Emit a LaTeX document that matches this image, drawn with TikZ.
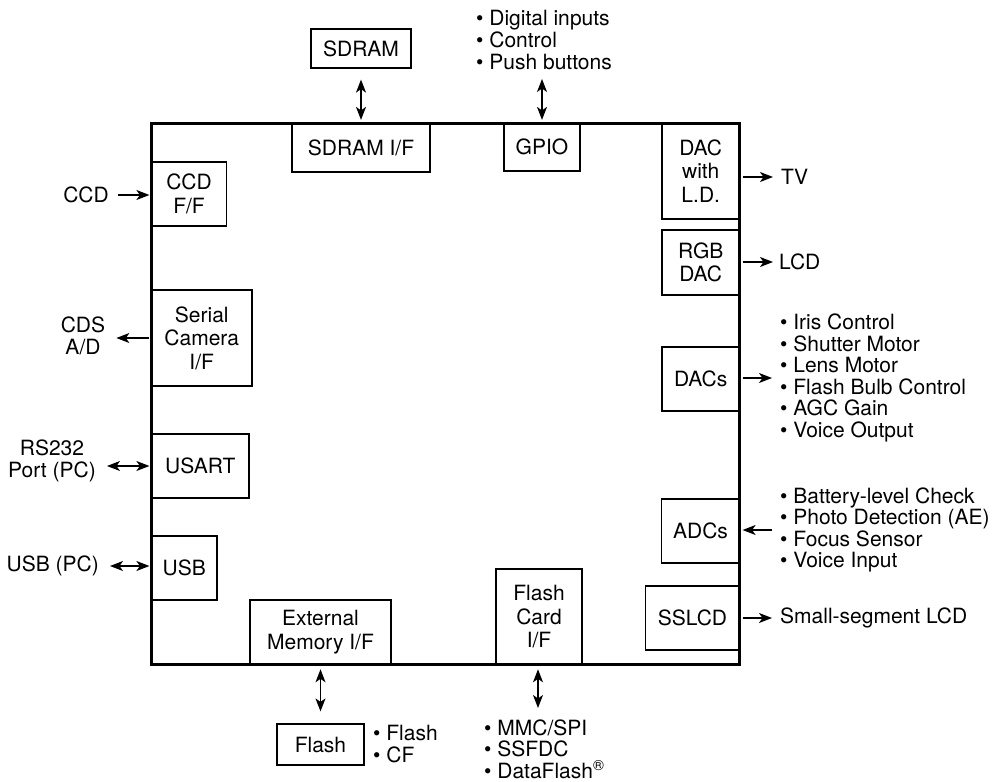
\documentclass[tikz,border=0pt]{standalone}
\usepackage{fontspec}
\setmainfont{TeX Gyre Heros}
\usetikzlibrary{arrows.meta}
\newcommand\myboxfont{\fontsize{21}{23.5}\selectfont}
\newcommand\mylblfont{\fontsize{21}{21.6}\selectfont}
\begin{document}
\begin{tikzpicture}[x=1pt,y=-1pt,
  box/.style={draw, line width=1.2pt, inner sep=0pt, align=center, font=\myboxfont},
  lbl/.style={inner sep=0pt, align=left, font=\mylblfont},
  clbl/.style={inner sep=0pt, align=center, font=\mylblfont},
  arr/.style={-{Stealth[length=13pt,width=10pt,inset=3.5pt]}, line width=1.2pt},
  darr/.style={{Stealth[length=13pt,width=10pt,inset=3.5pt]}-{Stealth[length=13pt,width=10pt,inset=3.5pt]}, line width=1.2pt},
  chipbox/.style={draw, line width=3pt, inner sep=0pt}]
\useasboundingbox (0,0) rectangle (997,782);
% inner boxes
\node[box, minimum width=100pt, minimum height=39pt] (sdram) at (361,48.5) {SDRAM};
\node[box, minimum width=138pt, minimum height=49pt] (sdramif) at (361,147.5) {SDRAM I/F};
\node[box, minimum width=76pt, minimum height=48pt] (gpio) at (542,147) {GPIO};
\node[box, minimum width=77.5pt, minimum height=96pt] (dacld) at (700.75,171) {DAC\\with\\L.D.};
\node[box, minimum width=77.5pt, minimum height=65pt] (rgbdac) at (700.75,262.5) {RGB\\DAC};
\node[box, minimum width=77.5pt, minimum height=64pt] (dacs) at (700.75,379) {DACs};
\node[box, minimum width=78pt, minimum height=64pt] (adcs) at (700.5,531) {ADCs};
\node[box, minimum width=94pt, minimum height=64pt] (sslcd) at (692.5,618) {SSLCD};
\node[box, minimum width=86pt, minimum height=95.7pt] (flashcard) at (539,616.85) {Flash\\Card\\I/F};
\node[box, minimum width=141pt, minimum height=64.7pt] (extmem) at (320.5,632.35) {External\\Memory I/F};
\node[box, minimum width=87pt, minimum height=41pt] (flash) at (320.5,744.5) {Flash};
\node[box, minimum width=65.5pt, minimum height=64pt] (usb) at (184.25,568) {USB};
\node[box, minimum width=97.5pt, minimum height=64pt] (usart) at (200.25,466) {USART};
\node[box, minimum width=100.5pt, minimum height=96pt] (serial) at (201.75,338) {Serial\\Camera\\I/F};
\node[box, minimum width=75pt, minimum height=64pt] (ccdff) at (189,194) {CCD\\F/F};
% main chip outline
\node[chipbox, minimum width=588pt, minimum height=541.7pt] (chip) at (445.5,393.85) {};
% outside labels
\node[lbl, anchor=west] (diglist) at (476,40) {• Digital inputs\\• Control\\• Push buttons};
\node[lbl, anchor=west] (tv) at (781,177) {TV};
\node[lbl, anchor=west] (lcd) at (779,262) {LCD};
\node[lbl, anchor=west] (dacslist) at (780,378) {• Iris Control\\• Shutter Motor\\• Lens Motor\\• Flash Bulb Control\\• AGC Gain\\• Voice Output};
\node[lbl, anchor=west] (adcslist) at (780,530) {• Battery-level Check\\• Photo Detection (AE)\\• Focus Sensor\\• Voice Input};
\node[lbl, anchor=west] (sslbl) at (780,618) {Small-segment LCD};
\node[lbl, anchor=west] (flashlist) at (373,744) {• Flash\\• CF};
\node[lbl, anchor=west] (mmclist) at (484,749) {• MMC/SPI\\• SSFDC\\• DataFlash\textsuperscript{\textregistered}};
\node[lbl, anchor=east] (ccd) at (109,195) {CCD};
\node[clbl] (cds) at (83,336) {CDS\\A/D};
\node[clbl] (rs232) at (52,461) {RS232\\Port (PC)};
\node[lbl, anchor=east] (usbpc) at (99,566) {USB (PC)};
% free ends
\coordinate (gpioin) at (542,79);
\coordinate (mmcin) at (538,708);
% connectors
\draw[darr, shorten <=11pt, shorten >=2.5pt] (sdram.south) -- (sdramif.north);
\draw[darr, shorten >=2.5pt] (gpioin) -- (gpio.north);
\draw[arr] ([xshift=2.5pt]dacld.east |- tv.west) -- ([xshift=-8pt]tv.west);
\draw[arr] ([xshift=2.5pt]rgbdac.east |- lcd.west) -- ([xshift=-6pt]lcd.west);
\draw[arr] ([xshift=2.5pt]dacs.east |- dacslist.west) -- ([xshift=-8pt]dacslist.west);
\draw[arr] ([xshift=-8pt]adcslist.west) -- ([xshift=2.5pt]adcs.east |- adcslist.west);
\draw[arr] ([xshift=2.5pt]sslcd.east |- sslbl.west) -- ([xshift=-8pt]sslbl.west);
\draw[darr, shorten <=4pt] (flashcard.south -| mmcin) -- (mmcin);
\draw[darr, shorten <=4pt, shorten >=12pt] (extmem.south) -- (flash.north);
\draw[arr] ([xshift=9pt]ccd.east) -- ([xshift=-1.5pt]ccdff.west |- ccd.east);
\draw[arr] ([xshift=-1.5pt]serial.west) -- ([xshift=11pt]cds.east |- serial.west);
\draw[darr] ([xshift=11pt]rs232.east |- usart.west) -- ([xshift=-1.5pt]usart.west);
\draw[darr] ([xshift=11pt]usbpc.east) -- ([xshift=-1.5pt]usb.west |- usbpc.east);
\end{tikzpicture}
\end{document}
